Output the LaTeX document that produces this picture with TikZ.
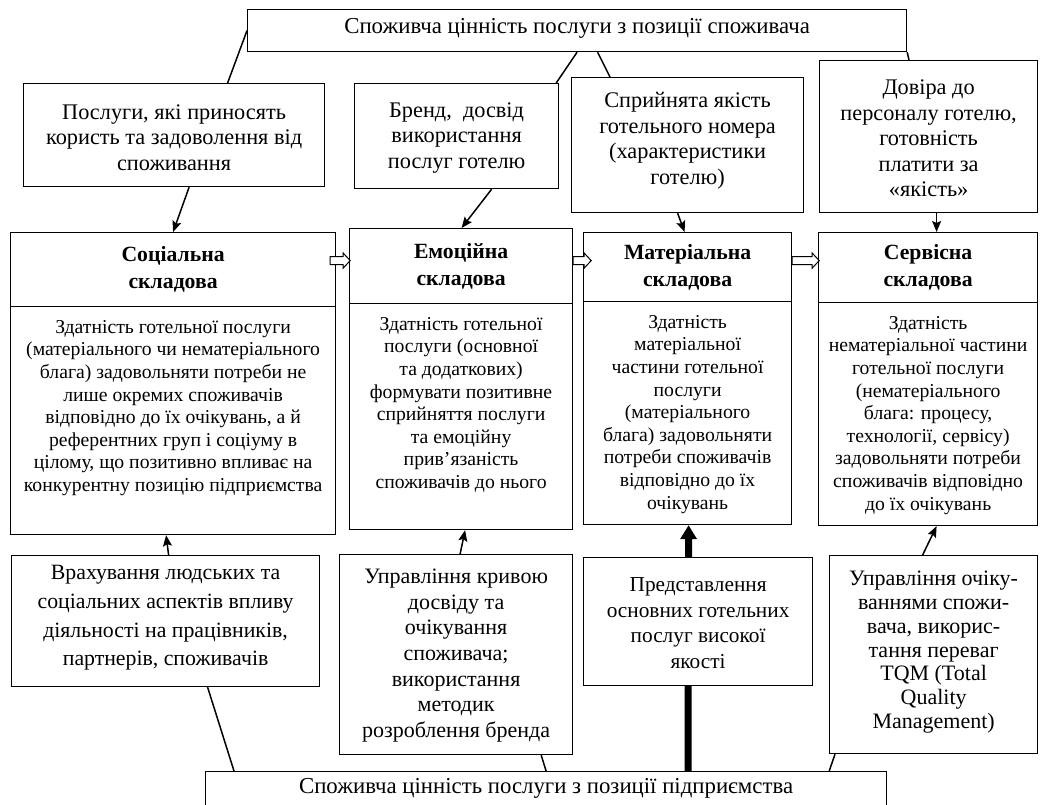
\documentclass[tikz,border=0pt]{standalone}
\usepackage{fontspec}
\setmainfont{Liberation Serif}
\usetikzlibrary{arrows.meta,calc,backgrounds}
\newcommand\harrow[2]{%
  \draw[line width=1pt, fill=white] ($(#1)+(0,-4)$) -- ++({#2-7},0) -- ++(0,-3.5) -- ++(7,7.5) -- ++(-7,7.5) -- ++(0,-3.5) -- ++({-(#2-7)},0) -- cycle;}
\begin{document}
\begin{tikzpicture}[x=1pt,y=-1pt,
  bx/.style={draw, line width=1.2pt, fill=white, inner sep=0pt, anchor=north west},
  tx/.style={align=center, inner sep=0pt},
  ft/.style={font=\fontsize{22.8}{26}\selectfont},
  fa/.style={font=\fontsize{22.3}{25.5}\selectfont},
  fh/.style={font=\fontsize{21.7}{27}\selectfont\bfseries},
  fb/.style={font=\fontsize{19.7}{22.6}\selectfont},
  con/.style={line width=1.5pt},
  arr/.style={line width=1.5pt, -{Stealth[length=11pt,width=9pt,inset=2pt]}},
]
\path[use as bounding box] (0,0) rectangle (1041,805);

% top
\node[bx, minimum width=659pt, minimum height=42pt] (top) at (247,9) {};
\node[tx, ft] (topt) at ([yshift=2pt]top.center) {Споживча цінність послуги з позиції споживача};

% A row
\node[bx, minimum width=301pt, minimum height=103pt] (A1) at (23,83) {};
\node[tx, fa] (A1t) at ([yshift=-2.5pt]A1.center) {Послуги, які приносять\\користь та задоволення від\\споживання};
\node[bx, minimum width=204pt, minimum height=105pt] (A2) at (354,83) {};
\node[tx, fa] (A2t) at ([yshift=-1.5pt]A2.center) {Бренд,\ \ досвід\\використання\\послуг готелю};
\node[bx, minimum width=232pt, minimum height=135pt] (A3) at (571,77) {};
\node[tx, fa] (A3t) at ([yshift=4.5pt]A3.center) {Сприйнята якість\\готельного номера\\(характеристики\\готелю)};
\node[bx, minimum width=218pt, minimum height=152pt] (A4) at (819,60) {};
\node[tx, fa] (A4t) at ([yshift=-2pt]A4.center) {Довіра до\\персоналу готелю,\\готовність\\платити за\\«якість»};

% components
\node[bx, minimum width=325pt, minimum height=74pt] (sh) at (10,232) {};
\node[tx, fh] at (sh.center) {Соціальна\\складова};
\node[bx, minimum width=325pt, minimum height=228pt] (sb) at (10,306) {};
\node[tx, fb, anchor=north] at ([yshift=-14pt]sb.north) {Здатність готельної послуги\\(матеріального чи нематеріального\\блага) задовольняти потреби не\\лише окремих споживачів\\відповідно до їх очікувань, а й\\референтних груп і соціуму в\\цілому, що позитивно впливає на\\конкурентну позицію підприємства};

\node[bx, minimum width=223pt, minimum height=75pt] (eh) at (349,228) {};
\node[tx, fh] at (eh.center) {Емоційна\\складова};
\node[bx, minimum width=223pt, minimum height=226pt] (eb) at (349,303) {};
\node[tx, fb, anchor=north] at ([yshift=-14pt]eb.north) {Здатність готельної\\послуги (основної\\та додаткових)\\формувати позитивне\\сприйняття послуги\\та емоційну\\прив’язаність\\споживачів до нього};

\node[bx, minimum width=208pt, minimum height=69pt] (mh) at (583,232) {};
\node[tx, fh] at (mh.center) {Матеріальна\\складова};
\node[bx, minimum width=208pt, minimum height=223pt] (mb) at (583,301) {};
\node[tx, fb, anchor=north] at ([yshift=-14pt]mb.north) {Здатність\\матеріальної\\частини готельної\\послуги\\(матеріального\\блага) задовольняти\\потреби споживачів\\відповідно до їх\\очікувань};

\node[bx, minimum width=219pt, minimum height=70pt] (vh) at (818,232) {};
\node[tx, fh] at (vh.center) {Сервісна\\складова};
\node[bx, minimum width=219pt, minimum height=223pt] (vb) at (818,302) {};
\node[tx, fb, anchor=north] at ([yshift=-14pt]vb.north) {Здатність\\нематеріальної частини\\готельної послуги\\(нематеріального\\блага: процесу,\\технології, сервісу)\\задовольняти потреби\\споживачів відповідно\\до їх очікувань};

% B row
\node[bx, minimum width=308pt, minimum height=131pt] (B1) at (11,555) {};
\node[tx, font=\fontsize{21.8}{28.7}\selectfont] at ([yshift=3pt]B1.center) {Врахування людських та\\соціальних аспектів впливу\\діяльності на працівників,\\партнерів, споживачів};
\node[bx, minimum width=233pt, minimum height=200pt] (B2) at (339,554) {};
\node[tx, font=\fontsize{22}{25.7}\selectfont] at ([yshift=-1pt]B2.center) {Управління кривою\\досвіду та\\очікування\\споживача;\\використання\\методик\\розроблення бренда};
\node[bx, minimum width=229pt, minimum height=128pt] (B3) at (583,557) {};
\node[tx, font=\fontsize{21.3}{25.5}\selectfont] at ([yshift=-1.5pt]B3.center) {Представлення\\основних готельних\\послуг високої\\якості};
\node[bx, minimum width=208pt, minimum height=198pt] (B4) at (829,555) {};
\node[tx, font=\fontsize{22}{23.8}\selectfont] at ([yshift=2.5pt]B4.center) {Управління очіку-\\ваннями спожи-\\вача, викорис-\\тання переваг\\TQM (Total\\Quality\\Management)};

% bottom
\node[bx, minimum width=681pt, minimum height=44pt] (bot) at (205,771) {};
\node[tx, ft] (bott) at ([yshift=-17pt]bot.north) {Споживча цінність послуги з позиції підприємства};

% connectors top
\draw[con] (top.west) -- ($(A1.north)+(53.5,0)$);
\draw[con] (top.south) -- ($(A2.north east)+(-3,0)$);
\draw[con] ($(top.south)+(20.5,0)$) -- ($(A3.north west)+(39,0)$);
\draw[con] (top.south east) -- ($(A4.north west)+(90,0)$);

\draw[arr] ($(A1.south)+(15,0)$) -- (sh.north);
\draw[arr] ($(A2.south)+(35,0)$) -- ($(eh.north)+(0.5,0)$);
\draw[arr] ($(A3.south)+(-10,0)$) -- ($(mh.north)+(-3,0)$);
\draw[arr] ($(A4.south)+(8,0)$) -- ($(vh.north)+(8.5,0)$);

% hollow arrows
\harrow{$(sh.east)+(-6,-9)$}{20}
\harrow{$(eh.east)+(0,-5.5)$}{18}
\harrow{$(mh.east)+(0,-6.5)$}{27}

% up arrows
\draw[arr] ($(B1.north)+(3,0)$) -- ($(sb.south)+(-7,0)$);
\draw[arr] ($(B2.north)+(4,0)$) -- ($(eb.south)+(4,0)$);
\draw[arr] ($(B4.north)+(-11,0)$) -- ($(vb.south)+(8.5,0)$);
\begin{scope}[on background layer]
\draw[line width=7pt, -{Triangle[length=14pt,width=16pt]}] ($(bot.north west)+(483,0)$) -- ($(mb.south)+(1,0)$);
\end{scope}

% bottom lines
\draw[con] ($(B1.south)+(42,0)$) -- ($(bot.north west)+(29,0)$);
\draw[con] ($(B2.south east)+(-32,0)$) -- (bot.north);
\draw[con] ($(B4.south west)+(6,0)$) -- ($(bot.north east)+(-58,0)$);
\end{tikzpicture}
\end{document}
